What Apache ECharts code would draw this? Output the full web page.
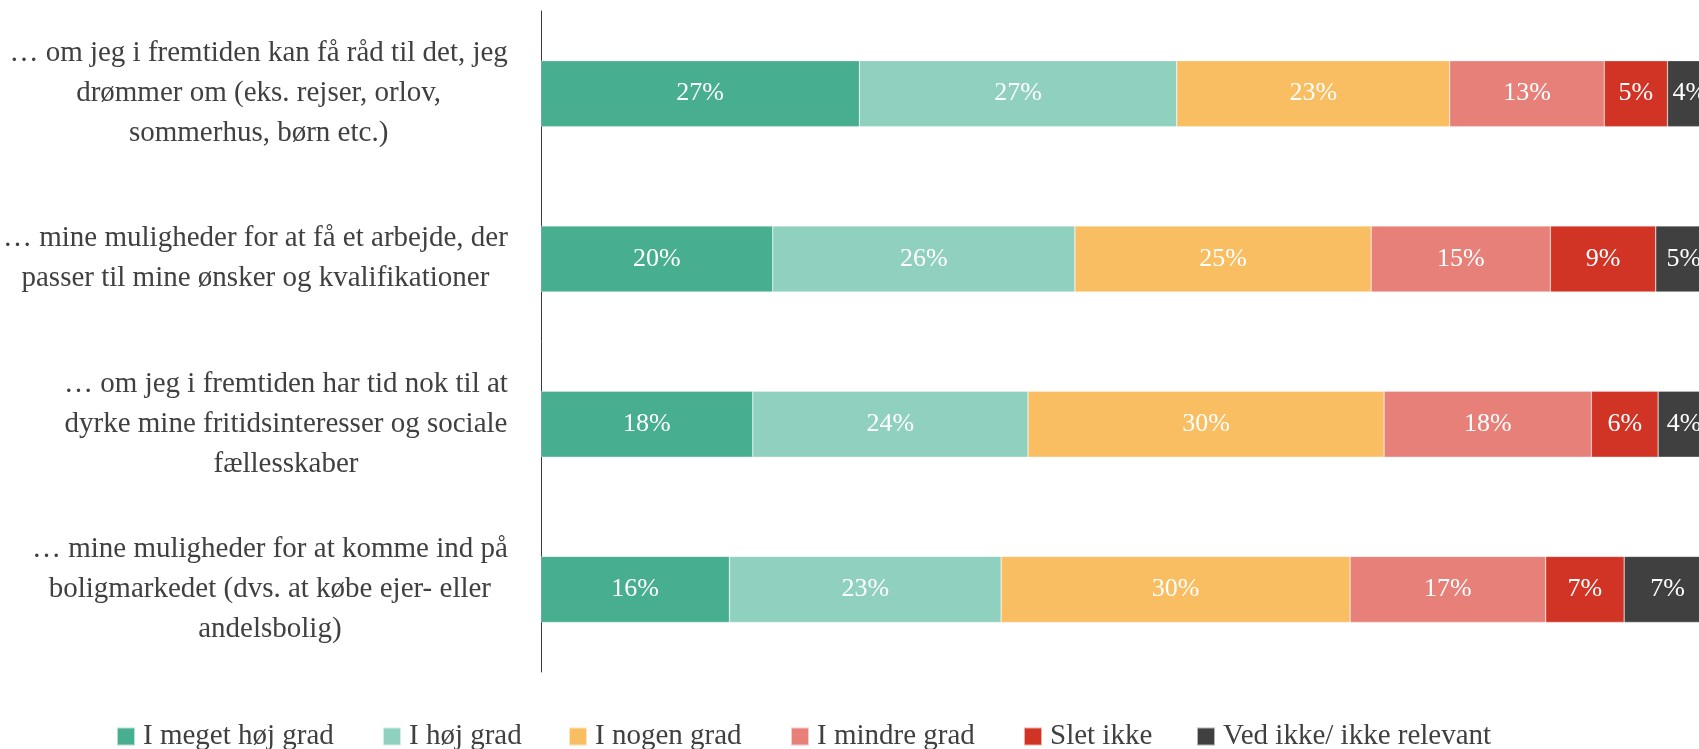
<!DOCTYPE html>
<html><head><meta charset="utf-8">
<script src="https://cdn.jsdelivr.net/npm/echarts@6/dist/echarts.min.js"></script>
<style>html,body{margin:0;padding:0;background:#fff;width:1699px;height:749px;overflow:hidden}#c{width:1712px;height:749px}</style>
</head><body><div id="c"></div>
<script>
const categories = [
  "… om jeg i fremtiden kan få råd til det, jeg\ndrømmer om (eks. rejser, orlov,\nsommerhus, børn etc.)",
  "… mine muligheder for at få et arbejde, der\npasser til mine ønsker og kvalifikationer",
  "… om jeg i fremtiden har tid nok til at\ndyrke mine fritidsinteresser og sociale\nfællesskaber",
  "… mine muligheder for at komme ind på\nboligmarkedet (dvs. at købe ejer- eller\nandelsbolig)"
];
const seriesNames = ["I meget høj grad","I høj grad","I nogen grad","I mindre grad","Slet ikke","Ved ikke/ ikke relevant"];
const megetHoej = [27.2, 19.8, 18.1, 16.1];
const hoej      = [27.1, 25.8, 23.5, 23.2];
const nogen     = [23.3, 25.3, 30.4, 29.8];
const mindre    = [13.2, 15.3, 17.7, 16.7];
const sletIkke  = [5.4, 9.0, 5.7, 6.7];
const vedIkke   = [3.8, 4.8, 4.45, 7.4];
const values = [megetHoej, hoej, nogen, mindre, sletIkke, vedIkke];
const colors = ["#48AE90","#90D0BE","#F9BE61","#E8807A","#D13325","#404040"];
const legendLeft = [116, 382, 568, 790, 1023, 1196];

const FONT = "Liberation Serif";
const chart = echarts.init(document.getElementById('c'));
chart.setOption({
  animation: false,
  grid: {left: 540, right: 0, top: 11, bottom: 77, containLabel: false},
  xAxis: {type: 'value', min: 0, max: 100, show: false},
  yAxis: {
    type: 'category', data: categories, inverse: true,
    axisLine: {show: true, lineStyle: {color: '#3a3a3a', width: 1}},
    axisTick: {show: false},
    axisLabel: {
      align: 'right', margin: 33,
      formatter: v => v.split('\n').map(l => '{c|' + l + '}').join('\n'),
      rich: {c: {align: 'center', fontFamily: FONT, fontSize: 29, lineHeight: 40, color: '#404040'}}
    }
  },
  legend: seriesNames.map((n, i) => ({
    data: [n], left: legendLeft[i], top: 722, itemWidth: 18, itemHeight: 18, itemGap: 0,
    icon: 'rect', textStyle: {fontFamily: FONT, fontSize: 29, color: '#404040', padding: [0,0,0,3]},
    padding: 0
  })),
  series: seriesNames.map((n, i) => ({
    name: n, type: 'bar', stack: 'total', barWidth: 66, data: values[i],
    itemStyle: {color: colors[i], borderColor: 'rgba(255,255,255,0.6)', borderWidth: 0.5},
    label: {show: true, position: 'inside', color: '#fff', fontFamily: FONT, fontSize: 26,
      formatter: p => Math.round(p.value) + '%'}
  }))
});
</script></body></html>
